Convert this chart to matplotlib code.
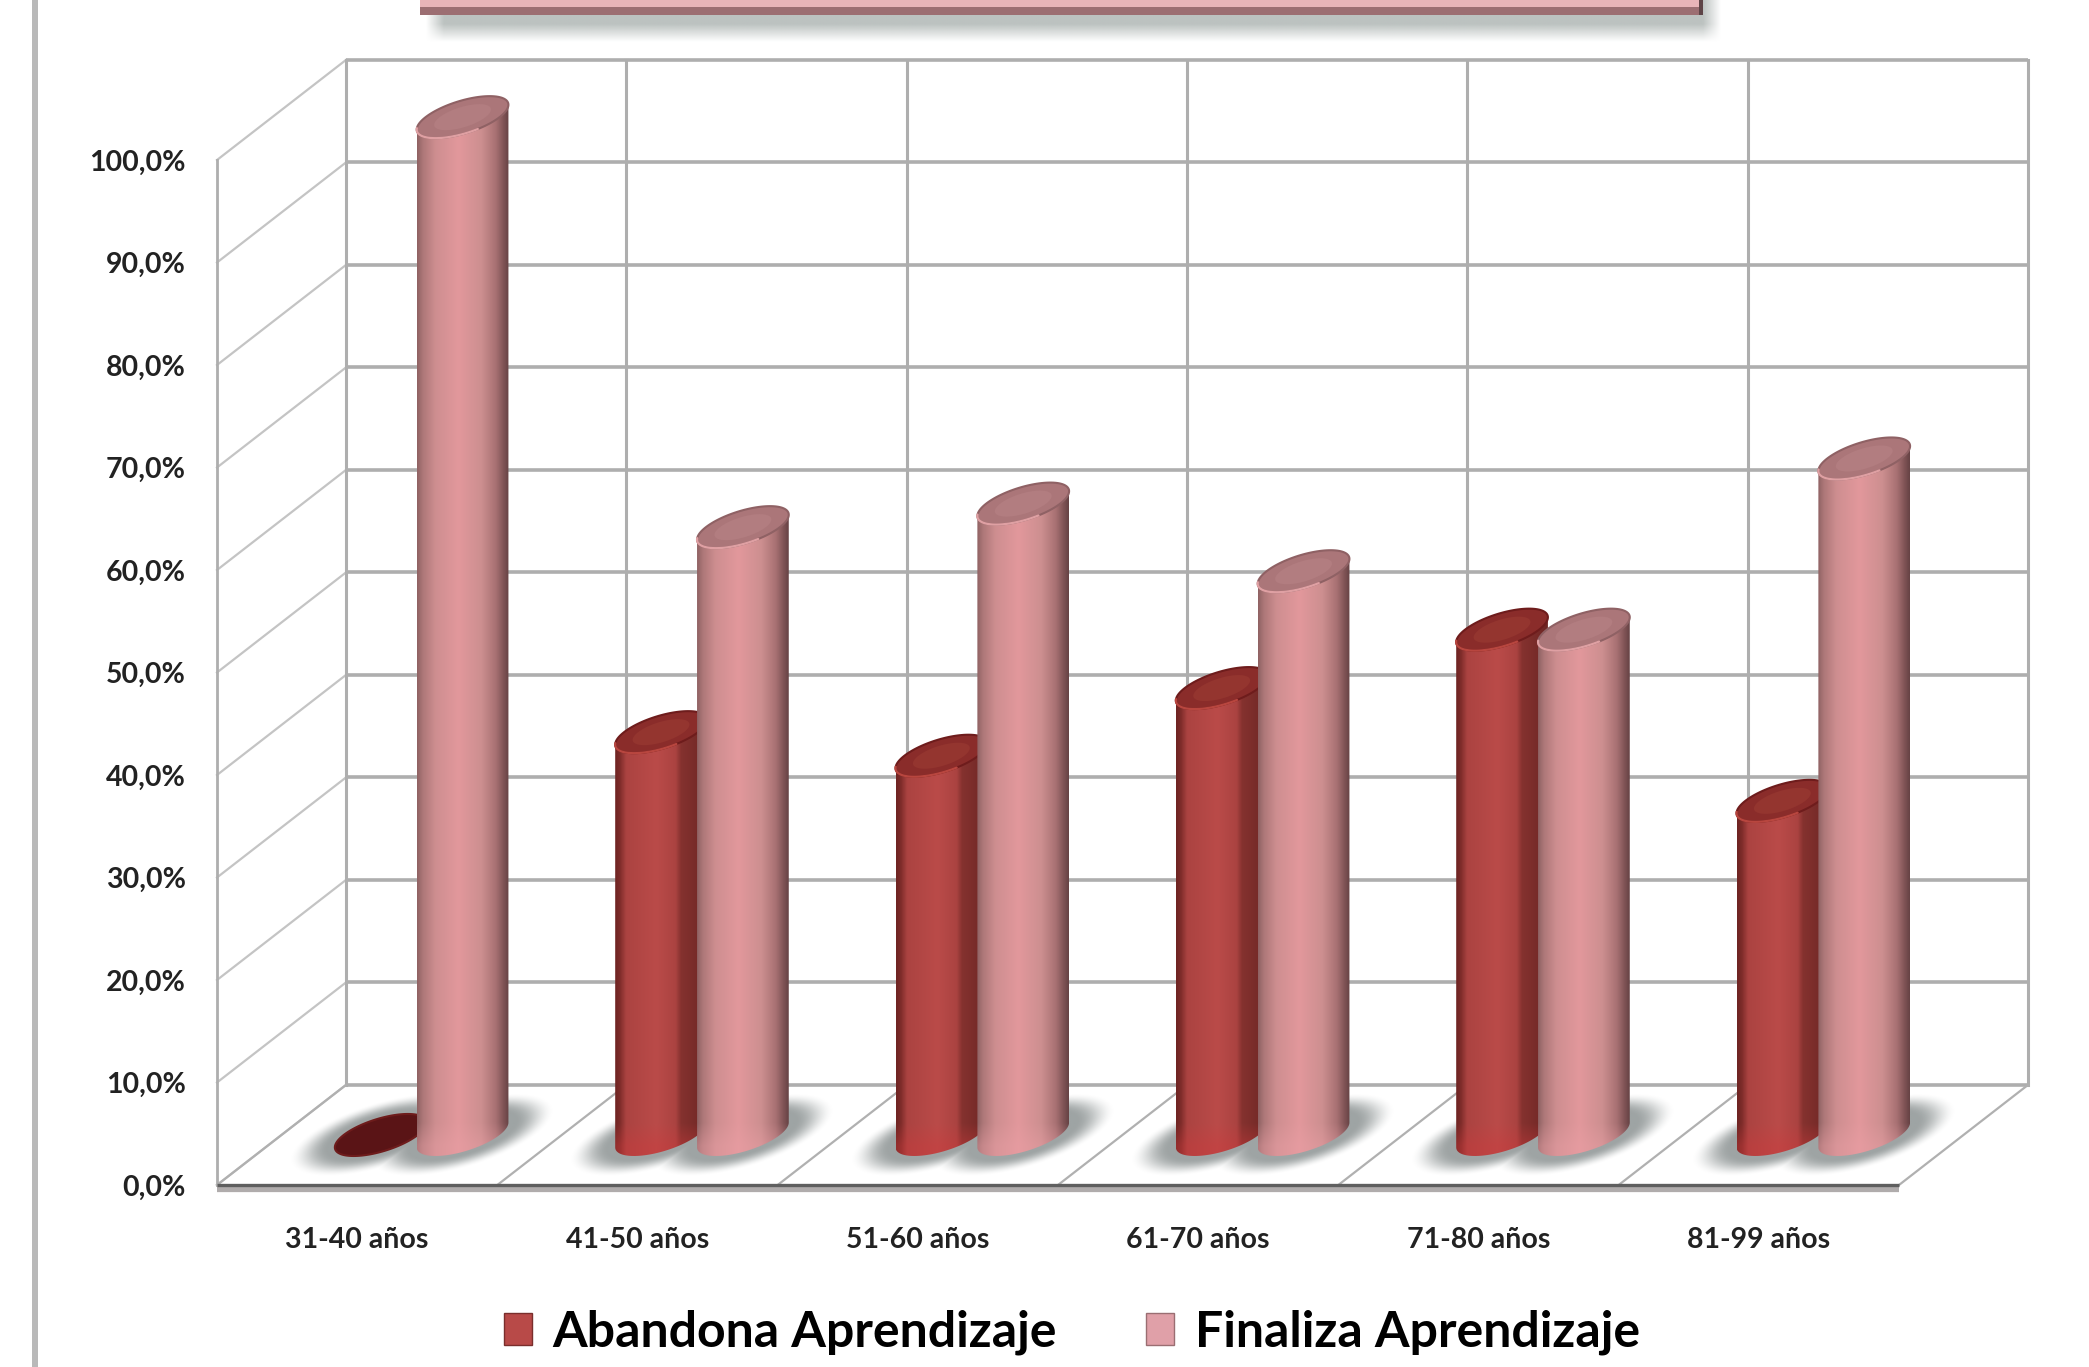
import matplotlib
matplotlib.use("Agg")
import matplotlib.pyplot as plt
import numpy as np
from matplotlib.patches import Patch, Polygon, Rectangle

plt.rcParams['font.family'] = ['Lato', 'DejaVu Sans']

categories = ["31-40 años", "41-50 años", "51-60 años", "61-70 años", "71-80 años", "81-99 años"]
abandona = [0.0, 39.3, 37.0, 43.6, 49.3, 32.6]
finaliza = [99.3, 59.3, 61.6, 55.0, 49.3, 66.0]
y_values = [0, 10, 20, 30, 40, 50, 60, 70, 80, 90, 100]
y_labels = ["0,0%", "10,0%", "20,0%", "30,0%", "40,0%", "50,0%", "60,0%", "70,0%", "80,0%", "90,0%", "100,0%"]

# oblique projection of the 3d box: depth 1 is the back wall
DEPTH_X = 0.46
DEPTH_Y = 9.76
RADIUS_X = 0.132
RADIUS_D = 0.21
BAR_OFFSET = 0.146

RED_STOPS = [(0.0, "#6e2422"), (0.05, "#7e2c2a"), (0.12, "#ab4341"), (0.45, "#ba4b49"),
             (0.66, "#ab4341"), (0.72, "#85322f"), (1.0, "#6e2624")]
PINK_STOPS = [(0.0, "#8f6263"), (0.06, "#ad7778"), (0.2, "#ce8e90"), (0.45, "#e2989c"),
              (0.7, "#cd8f90"), (0.86, "#a87173"), (0.95, "#7d5254"), (1.0, "#674345")]


def proj(x, pct, depth):
    return x + DEPTH_X * depth, pct + DEPTH_Y * depth


def ellipse(cx, pct, theta):
    # circle on the floor plane, seen through the projection
    x, y = proj(cx + RADIUS_X * np.cos(theta), pct, 0.5 + RADIUS_D * np.sin(theta))
    return x, y


def hex_rgb(color):
    return np.array(matplotlib.colors.to_rgb(color))


def gradient(stops, n):
    pos = [s[0] for s in stops]
    rgb = np.array([hex_rgb(s[1]) for s in stops])
    t = np.linspace(0, 1, n)
    return np.stack([np.interp(t, pos, rgb[:, i]) for i in range(3)], axis=1)


def draw_shadow(ax, i):
    xs = np.linspace(i - 0.15, i + 1.3, 440)
    ys = np.linspace(0.2, 12.0, 120)
    gx, gy = np.meshgrid(xs, ys)
    alpha = np.zeros_like(gx)
    for off in (-BAR_OFFSET, BAR_OFFSET):
        # undo the projection for a floor point, relative to each bar's axis
        d = gy / DEPTH_Y - 0.5
        u = gx - (i + 0.5 + off) - DEPTH_X * 0.5 - DEPTH_X * d
        r = np.sqrt((u / RADIUS_X) ** 2 + (d / RADIUS_D) ** 2)
        a = np.clip((2.0 - r) / 0.85, 0, 1)
        alpha = np.maximum(alpha, a * a * (3 - 2 * a))
    img = np.zeros(gx.shape + (4,))
    img[..., :3] = hex_rgb("#868d8d")
    img[..., 3] = alpha * 0.8
    im = ax.imshow(img, extent=(xs[0], xs[-1], ys[0], ys[-1]), origin="lower", aspect="auto",
                   interpolation="bilinear", zorder=3)
    im.set_clip_box(ax.figure.bbox)


def draw_bar(ax, cx, value, stops, glow, cap, cap_inner, cap_edge, rim, z):
    t_ext = np.arctan2(RADIUS_D * DEPTH_X, RADIUS_X)
    # silhouette points: theta where the x extent is reached
    right = t_ext
    left = t_ext + np.pi
    front = np.linspace(left, right + 2 * np.pi, 80)
    if value > 0:
        bx, by = ellipse(cx, 0, front)
        tx, ty = ellipse(cx, value, front[::-1])
        poly = Polygon(np.column_stack([np.r_[bx, tx], np.r_[by, ty]]), closed=True,
                       facecolor="none", edgecolor="none", zorder=z)
        ax.add_patch(poly)
        x0, x1 = bx.min(), bx.max()
        y0, y1 = by.min(), ty.max()
        rows = 500
        col = gradient(stops, 120)
        levels = np.linspace(y0, y1, rows)
        img = np.repeat(col[None, :, :], rows, axis=0)
        # brighter band where the cylinder meets the floor
        band = np.clip((6.0 - levels) / 2.2, 0, 1)[:, None, None] * 0.4
        img = img * (1 - band) + hex_rgb(glow)[None, None, :] * band
        im = ax.imshow(img, extent=(x0, x1, y0, y1), origin="lower", aspect="auto",
                       interpolation="bilinear", zorder=z)
        im.set_clip_path(poly)
        im.set_clip_box(ax.figure.bbox)
    theta = np.linspace(0, 2 * np.pi, 120)
    ex, ey = ellipse(cx, value, theta)
    ax.add_patch(Polygon(np.column_stack([ex, ey]), closed=True, facecolor=cap,
                         edgecolor=cap_edge, linewidth=1.5, clip_on=False, zorder=z + 0.1))
    cx0, cy0 = proj(cx, value, 0.5)
    ax.add_patch(Polygon(np.column_stack([cx0 + (ex - cx0) * 0.62, cy0 + (ey - cy0) * 0.62]), closed=True,
                         facecolor=cap_inner, edgecolor="none", clip_on=False, zorder=z + 0.2))
    if value > 0:
        arc = np.linspace(np.pi + 0.55, 2 * np.pi - 0.6, 40)
        rx, ry = ellipse(cx, value, arc)
        ax.plot(rx, ry, color=rim, lw=1.6, clip_on=False, zorder=z + 0.3, solid_capstyle="round")


fig = plt.figure(figsize=(20.89, 13.67), dpi=100)
W, H = 2089.0, 1367.0

# page furniture behind the chart, laid out in pixels
bg = fig.add_axes([0, 0, 1, 1], zorder=0)
bg.set_xlim(0, W)
bg.set_ylim(H, 0)
bg.axis("off")
bg.add_patch(Rectangle((32, 0), 6, H, facecolor="#b9b9b9", edgecolor="none"))
sx = np.linspace(405, 1740, 600)
sy = np.linspace(0, 50, 60)
gx, gy = np.meshgrid(sx, sy)
shade = np.clip((gx - 425) / 18, 0, 1) * np.clip((1722 - gx) / 18, 0, 1) * np.clip((42 - gy) / 18, 0, 1)
shadow_img = np.zeros(gx.shape + (4,))
shadow_img[..., :3] = hex_rgb("#bcc2c0")
shadow_img[..., 3] = shade
bg.imshow(shadow_img, extent=(sx[0], sx[-1], sy[-1], sy[0]), aspect="auto", interpolation="bilinear", zorder=1)
bg.set_xlim(0, W)
bg.set_ylim(H, 0)
bg.add_patch(Rectangle((420, -5), 1283, 20, facecolor="#e8b4b8", edgecolor="none", zorder=2))
bg.add_patch(Rectangle((420, 7), 1283, 8, facecolor="#9c6e72", edgecolor="none", zorder=3))
bg.add_patch(Rectangle((1699, -5), 4, 20, facecolor="#5e4447", edgecolor="none", zorder=3))

ax = fig.add_axes([217 / W, 1 - 1185 / H, (1899 - 217) / W, (1185 - 160) / H], zorder=1)
ax.patch.set_alpha(0)
for s in ax.spines.values():
    s.set_visible(False)

n = len(categories)
GRID = "#aeaeae"
LIGHT = "#c4c4c4"

# back wall and side wall
for v in y_values:
    x0, y0 = proj(0, v, 0)
    x1, y1 = proj(0, v, 1)
    x2, y2 = proj(n, v, 1)
    ax.plot([x0, x1], [y0, y1], color=LIGHT, lw=1.6, clip_on=False, zorder=1)
    ax.plot([x1, x2], [y1, y2], color=GRID, lw=2.6, clip_on=False, zorder=1, solid_capstyle="butt")
for i in range(n + 1):
    x0, y0 = proj(i, 0, 1)
    x1, y1 = proj(i, 100, 1)
    ax.plot([x0, x1], [y0, y1], color=GRID, lw=2.2, clip_on=False, zorder=1)
    # floor divisions
    fx, fy = proj(i, 0, 0)
    ax.plot([fx, x0], [fy, y0], color="#b0b0b0", lw=1.6, clip_on=False, zorder=2)
ax.plot([0, 0], [0, 100], color=GRID, lw=2.0, clip_on=False, zorder=1)

# front edge of the floor slab
ax.plot([0, n], [-0.35, -0.35], color="#b0acac", lw=4.5, clip_on=False, zorder=2, solid_capstyle="butt")
ax.plot([0, n], [0, 0], color="#5f5f5f", lw=2.4, clip_on=False, zorder=2, solid_capstyle="butt")

for i in range(n):
    draw_shadow(ax, i)
    red_x = i + 0.5 - BAR_OFFSET
    pink_x = i + 0.5 + BAR_OFFSET
    red_cap = "#5a1416" if abandona[i] == 0 else "#8a2c2a"
    red_inner = "#5a1416" if abandona[i] == 0 else "#94352f"
    draw_bar(ax, red_x, abandona[i], RED_STOPS, "#cc3a3c", red_cap, red_inner, "#6e1c1c", "#b8463f", 5 + i)
    draw_bar(ax, pink_x, finaliza[i], PINK_STOPS, "#eba0a6", "#ab7679", "#b27d80", "#8f6164", "#dfa0a3", 5.5 + i)

ax.set_xlim(0, n)
ax.set_ylim(0, 100)
ax.set_xticks(np.arange(n) + 0.5, categories, fontsize=20.5, fontweight="bold", color="#222222")
ax.set_yticks(y_values, y_labels, fontsize=20.5, fontweight="bold", color="#222222")
ax.tick_params(axis="both", length=0)
ax.tick_params(axis="x", pad=30)
ax.tick_params(axis="y", pad=22.5)

handles = [Patch(facecolor="#b84a48", edgecolor="#7a2e2c", label="Abandona Aprendizaje"),
           Patch(facecolor="#e0a0a8", edgecolor="#9a6e72", label="Finaliza Aprendizaje")]
fig.legend(handles=handles, ncol=2, loc="center", bbox_to_anchor=(1072 / W, 1 - 1332 / H), frameon=False,
           prop={"family": "Lato", "weight": "bold", "size": 36}, handlelength=0.55, handleheight=0.6,
           handletextpad=0.42, columnspacing=1.78)

fig.savefig("out.png", dpi=100, facecolor="white")
